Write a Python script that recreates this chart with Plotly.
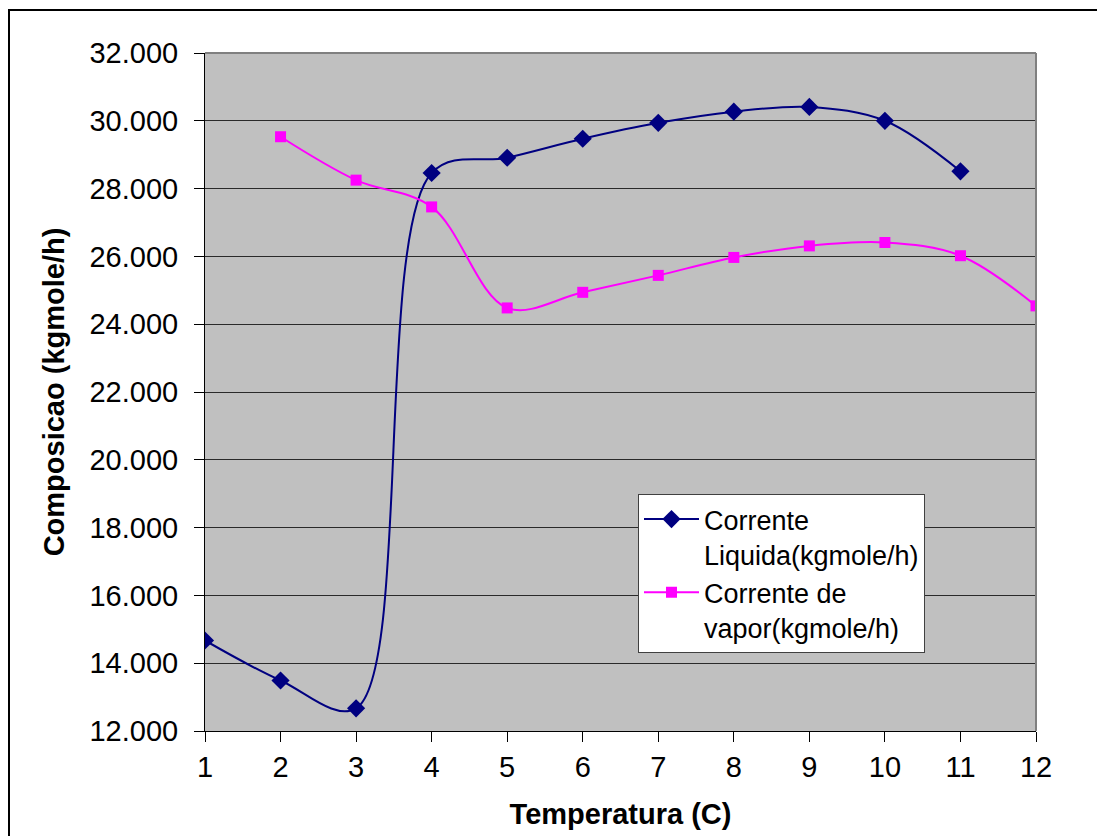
import plotly.graph_objects as go

# Temperature stages (x) and flow rates for each stream
temperatura = [1, 2, 3, 4, 5, 6, 7, 8, 9, 10, 11, 12]
liquida = [14.67, 13.49, 12.67, 28.46, 28.91, 29.47, 29.94, 30.27, 30.41, 30.0, 28.51]
vapor_x = [2, 3, 4, 5, 6, 7, 8, 9, 10, 11, 12]
vapor = [29.53, 28.25, 27.46, 24.48, 24.94, 25.44, 25.97, 26.31, 26.41, 26.02, 24.54]

y_ticks = [12, 14, 16, 18, 20, 22, 24, 26, 28, 30, 32]
y_tick_labels = ["12.000", "14.000", "16.000", "18.000", "20.000", "22.000",
                 "24.000", "26.000", "28.000", "30.000", "32.000"]

FONT = "Liberation Sans, Arial, sans-serif"

fig = go.Figure()
fig.add_trace(go.Scatter(
    x=temperatura[:len(liquida)], y=liquida,
    mode="lines+markers",
    name="Corrente<br>Liquida(kgmole/h)",
    line=dict(color="#000080", width=2, shape="spline", smoothing=1.0),
    marker=dict(symbol="diamond", size=14, color="#000080"),
))
fig.add_trace(go.Scatter(
    x=vapor_x, y=vapor,
    mode="lines+markers",
    name="Corrente de<br>vapor(kgmole/h)",
    line=dict(color="#FF00FF", width=2, shape="spline", smoothing=1.0),
    marker=dict(symbol="square", size=11, color="#FF00FF"),
))

fig.update_layout(
    width=1097, height=836,
    margin=dict(l=205, r=61, t=53, b=105),
    paper_bgcolor="white",
    plot_bgcolor="#C0C0C0",
    font=dict(family=FONT, size=28, color="black"),
    showlegend=True,
    legend=dict(
        x=(638 - 205) / 831, y=(731 - 494) / 678,
        xanchor="left", yanchor="top",
        bgcolor="white", bordercolor="#404040", borderwidth=1,
        font=dict(family=FONT, size=27, color="black"),
        valign="top", tracegroupgap=4, itemwidth=55,
    ),
    xaxis=dict(
        range=[1, 12], tickvals=temperatura,
        showgrid=False, zeroline=False,
        showline=True, linecolor="black", linewidth=1,
        ticks="outside", ticklen=10, tickcolor="black",
        tickfont=dict(size=29),
        title=dict(text="<b>Temperatura (C)</b>", font=dict(size=29), standoff=21),
    ),
    yaxis=dict(
        range=[12, 32], tickvals=y_ticks, ticktext=y_tick_labels,
        showgrid=True, gridcolor="#2a2a2a", gridwidth=1,
        zeroline=False,
        showline=True, linecolor="black", linewidth=1,
        ticks="outside", ticklen=10, tickcolor="black",
        tickfont=dict(size=29), ticklabelstandoff=10,
        title=dict(text="<b>Composicao (kgmole/h)</b>", font=dict(size=29), standoff=16),
    ),
)

# Gray frame on the top and right of the plotting area
fig.add_shape(type="line", xref="paper", yref="paper", x0=0, x1=1, y0=1, y1=1,
              line=dict(color="#808080", width=2))
fig.add_shape(type="line", xref="paper", yref="paper", x0=1, x1=1, y0=0, y1=1,
              line=dict(color="#808080", width=2))

# Outer chart border
fig.add_shape(type="rect", xref="paper", yref="paper",
              x0=(9 - 205) / 831, x1=(1110 - 205) / 831,
              y0=(731 - 850) / 678, y1=(731 - 10) / 678,
              line=dict(color="black", width=2), fillcolor="rgba(0,0,0,0)", layer="above")

fig.write_html("out.html")
